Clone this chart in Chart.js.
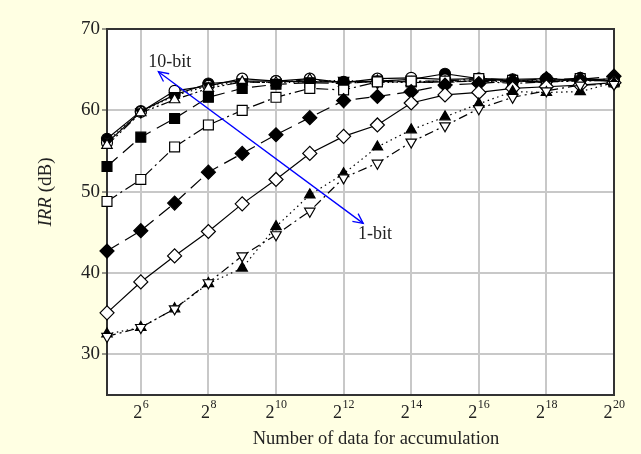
<!DOCTYPE html>
<html lang="en">
<head>
<meta charset="UTF-8">
<title>IRR vs number of data for accumulation</title>
<style>
  html, body { margin: 0; padding: 0; background: #FFFFE3; }
  #wrap { width: 641px; height: 454px; }
</style>
</head>
<body>
<div id="wrap"><canvas id="chart" width="641" height="454"></canvas></div>
<script src="https://cdn.jsdelivr.net/npm/chart.js"></script>
<script>
// x = log2(number of data), 2^5 .. 2^20
const exponents = [5, 6, 7, 8, 9, 10, 11, 12, 13, 14, 15, 16, 17, 18, 19, 20];

// IRR (dB)
const bit1  = [32.2, 33.3, 35.6, 38.8, 42.1, 44.7, 47.6, 51.7, 53.5, 56.1, 58.1, 60.2, 61.6, 62.4, 63.1, 63.2];
const bit2  = [32.5, 33.3, 35.6, 38.7, 40.6, 45.7, 49.6, 52.2, 55.5, 57.6, 59.2, 60.8, 62.3, 62.2, 62.3, 63.4];
const bit3  = [35.1, 38.9, 42.1, 45.1, 48.5, 51.5, 54.7, 56.8, 58.2, 60.9, 61.9, 62.2, 62.7, 62.9, 63.1, 63.4];
const bit4  = [42.7, 45.2, 48.6, 52.4, 54.7, 57.0, 59.1, 61.2, 61.7, 62.3, 63.1, 63.3, 63.6, 63.9, 63.8, 64.2];
const bit5  = [48.8, 51.5, 55.5, 58.2, 60.0, 61.6, 62.7, 62.5, 63.5, 63.6, 63.6, 63.9, 63.7, 63.4, 63.9, 63.5];
const bit6  = [53.1, 56.7, 59.0, 61.6, 62.7, 63.2, 63.4, 63.3, 63.6, 63.5, 63.4, 63.7, 63.6, 63.5, 63.7, 63.6];
const bit7  = [55.7, 59.7, 61.3, 62.7, 63.5, 63.4, 63.8, 63.3, 63.6, 63.4, 63.5, 63.6, 63.3, 63.5, 63.6, 63.7];
const bit8  = [56.2, 59.8, 61.8, 63.0, 63.5, 63.4, 63.5, 63.7, 63.4, 63.5, 63.6, 63.6, 63.5, 63.8, 63.6, 63.9];
const bit9  = [56.0, 59.8, 62.4, 63.0, 63.9, 63.6, 63.9, 63.4, 63.9, 64.0, 63.8, 63.9, 63.6, 63.6, 64.0, 63.6];
const bit10 = [56.5, 59.9, 61.9, 63.3, 63.6, 63.6, 63.5, 63.5, 63.6, 63.8, 64.5, 63.9, 63.8, 63.9, 63.7, 63.9];

const xTickExps = [6, 8, 10, 12, 14, 16, 18, 20];
const yTickValues = [30, 40, 50, 60, 70];

// blue arrow, in data units (exponent, dB)
const arrowEnd10 = [6.52, 64.75];
const arrowEnd1 = [12.58, 46.1];
const label10 = [6.86, 65.9];
const label1 = [12.93, 44.8];

const SERIF = '"Liberation Serif", "Times New Roman", serif';

// marker / line look per series
const looks = [
  { data: bit1,  style: 'triangle', rot: 180, fill: false, r: 6,   dash: [9, 4, 2, 4] },
  { data: bit2,  style: 'triangle', rot: 0,   fill: true,  r: 6,   dash: [1.5, 3.5] },
  { data: bit3,  style: 'rectRot',  rot: 0,   fill: false, r: 7,   dash: [] },
  { data: bit4,  style: 'rectRot',  rot: 0,   fill: true,  r: 7,   dash: [14, 7] },
  { data: bit5,  style: 'rect',     rot: 0,   fill: false, r: 7,   dash: [12, 4, 2, 4] },
  { data: bit6,  style: 'rect',     rot: 0,   fill: true,  r: 7,   dash: [14, 7] },
  { data: bit7,  style: 'triangle', rot: 0,   fill: false, r: 6,   dash: [10, 3, 2, 3, 2, 3] },
  { data: bit8,  style: 'triangle', rot: 180, fill: true,  r: 6,   dash: [1.5, 3] },
  { data: bit9,  style: 'circle',   rot: 0,   fill: false, r: 5.5, dash: [] },
  { data: bit10, style: 'circle',   rot: 0,   fill: true,  r: 5.5, dash: [] }
];

const datasets = looks.map((s, i) => ({
  label: (i + 1) + '-bit',
  data: exponents.map((e, j) => ({ x: e, y: s.data[j] })),
  borderColor: '#000',
  borderWidth: 1.2,
  borderDash: s.dash,
  pointStyle: s.style,
  pointRotation: s.rot,
  pointRadius: s.r,
  pointBorderWidth: 1.2,
  pointBorderColor: '#000',
  pointBackgroundColor: s.fill ? '#000' : '#fff',
  clip: false,
  tension: 0
}));

function drawArrowHead(ctx, x0, y0, x1, y1) {
  const a = Math.atan2(y1 - y0, x1 - x0);
  const len = 11, spread = 0.45;
  ctx.beginPath();
  ctx.moveTo(x1 - len * Math.cos(a - spread), y1 - len * Math.sin(a - spread));
  ctx.lineTo(x1, y1);
  ctx.lineTo(x1 - len * Math.cos(a + spread), y1 - len * Math.sin(a + spread));
  ctx.stroke();
}

const decor = {
  id: 'decor',
  beforeDraw(chart) {
    const { ctx, chartArea: a } = chart;
    ctx.save();
    ctx.fillStyle = '#fff';
    ctx.fillRect(a.left, a.top, a.right - a.left, a.bottom - a.top);
    ctx.restore();
  },
  beforeDatasetsDraw(chart) {
    const { ctx, chartArea: a } = chart;
    ctx.save();
    ctx.strokeStyle = '#333';
    ctx.lineWidth = 2;
    ctx.strokeRect(a.left, a.top, a.right - a.left, a.bottom - a.top);
    ctx.restore();
  },
  afterDraw(chart) {
    const { ctx } = chart;
    const xs = chart.scales.x, ys = chart.scales.y;
    ctx.save();
    ctx.fillStyle = '#222';
    ctx.textBaseline = 'alphabetic';

    // x tick labels 2^n
    xTickExps.forEach(e => {
      const px = xs.getPixelForValue(e);
      ctx.font = '18px ' + SERIF;
      const wb = ctx.measureText('2').width;
      ctx.font = '12px ' + SERIF;
      const ws = ctx.measureText(String(e)).width;
      const x0 = px - (wb + ws) / 2;
      ctx.textAlign = 'left';
      ctx.font = '18px ' + SERIF;
      ctx.fillText('2', x0, 418);
      ctx.font = '12px ' + SERIF;
      ctx.fillText(String(e), x0 + wb + 0.5, 408);
    });

    // x title
    ctx.font = '18.5px ' + SERIF;
    ctx.textAlign = 'center';
    ctx.fillText('Number of data for accumulation', 376, 444);

    // y title, rotated, with italic IRR
    ctx.translate(45, 192);
    ctx.rotate(-Math.PI / 2);
    ctx.font = 'italic 19px ' + SERIF;
    const w1 = ctx.measureText('IRR').width;
    ctx.font = '19px ' + SERIF;
    const w2 = ctx.measureText(' (dB)').width;
    ctx.textAlign = 'left';
    ctx.font = 'italic 19px ' + SERIF;
    ctx.fillText('IRR', -(w1 + w2) / 2, 6);
    ctx.font = '19px ' + SERIF;
    ctx.fillText(' (dB)', -(w1 + w2) / 2 + w1, 6);
    ctx.setTransform(1, 0, 0, 1, 0, 0);

    // blue double arrow
    const ax0 = xs.getPixelForValue(arrowEnd10[0]), ay0 = ys.getPixelForValue(arrowEnd10[1]);
    const ax1 = xs.getPixelForValue(arrowEnd1[0]), ay1 = ys.getPixelForValue(arrowEnd1[1]);
    ctx.strokeStyle = '#0000ff';
    ctx.lineWidth = 1.3;
    ctx.beginPath();
    ctx.moveTo(ax0, ay0);
    ctx.lineTo(ax1, ay1);
    ctx.stroke();
    drawArrowHead(ctx, ax1, ay1, ax0, ay0);
    drawArrowHead(ctx, ax0, ay0, ax1, ay1);

    // arrow labels
    ctx.fillStyle = '#222';
    ctx.font = '18px ' + SERIF;
    ctx.textAlign = 'center';
    ctx.textBaseline = 'middle';
    ctx.fillText('10-bit', xs.getPixelForValue(label10[0]), ys.getPixelForValue(label10[1]));
    ctx.fillText('1-bit', xs.getPixelForValue(label1[0]), ys.getPixelForValue(label1[1]));
    ctx.restore();
  }
};

new Chart(document.getElementById('chart').getContext('2d'), {
  type: 'line',
  data: { datasets },
  options: {
    responsive: false,
    devicePixelRatio: 1,
    animation: false,
    layout: { padding: { left: 0, right: 27, top: 29, bottom: 0 } },
    plugins: { legend: { display: false }, tooltip: { enabled: false } },
    scales: {
      x: {
        type: 'linear',
        min: 5,
        max: 20,
        afterBuildTicks: scale => { scale.ticks = xTickExps.map(v => ({ value: v })); },
        afterFit: scale => { scale.height = 59; },
        ticks: { display: false },
        grid: { color: '#c8c8c8', lineWidth: 2, drawTicks: false },
        border: { display: true, color: '#333', width: 2 }
      },
      y: {
        min: 25,
        max: 70,
        afterBuildTicks: scale => { scale.ticks = yTickValues.map(v => ({ value: v })); },
        afterFit: scale => { scale.width = 107; },
        ticks: { color: '#222', font: { family: SERIF, size: 19 }, padding: 2 },
        grid: { color: '#c8c8c8', lineWidth: 2, tickLength: 5, tickColor: '#333', tickWidth: 1 },
        border: { display: true, color: '#333', width: 2 }
      }
    }
  },
  plugins: [decor]
});
</script>
</body>
</html>
